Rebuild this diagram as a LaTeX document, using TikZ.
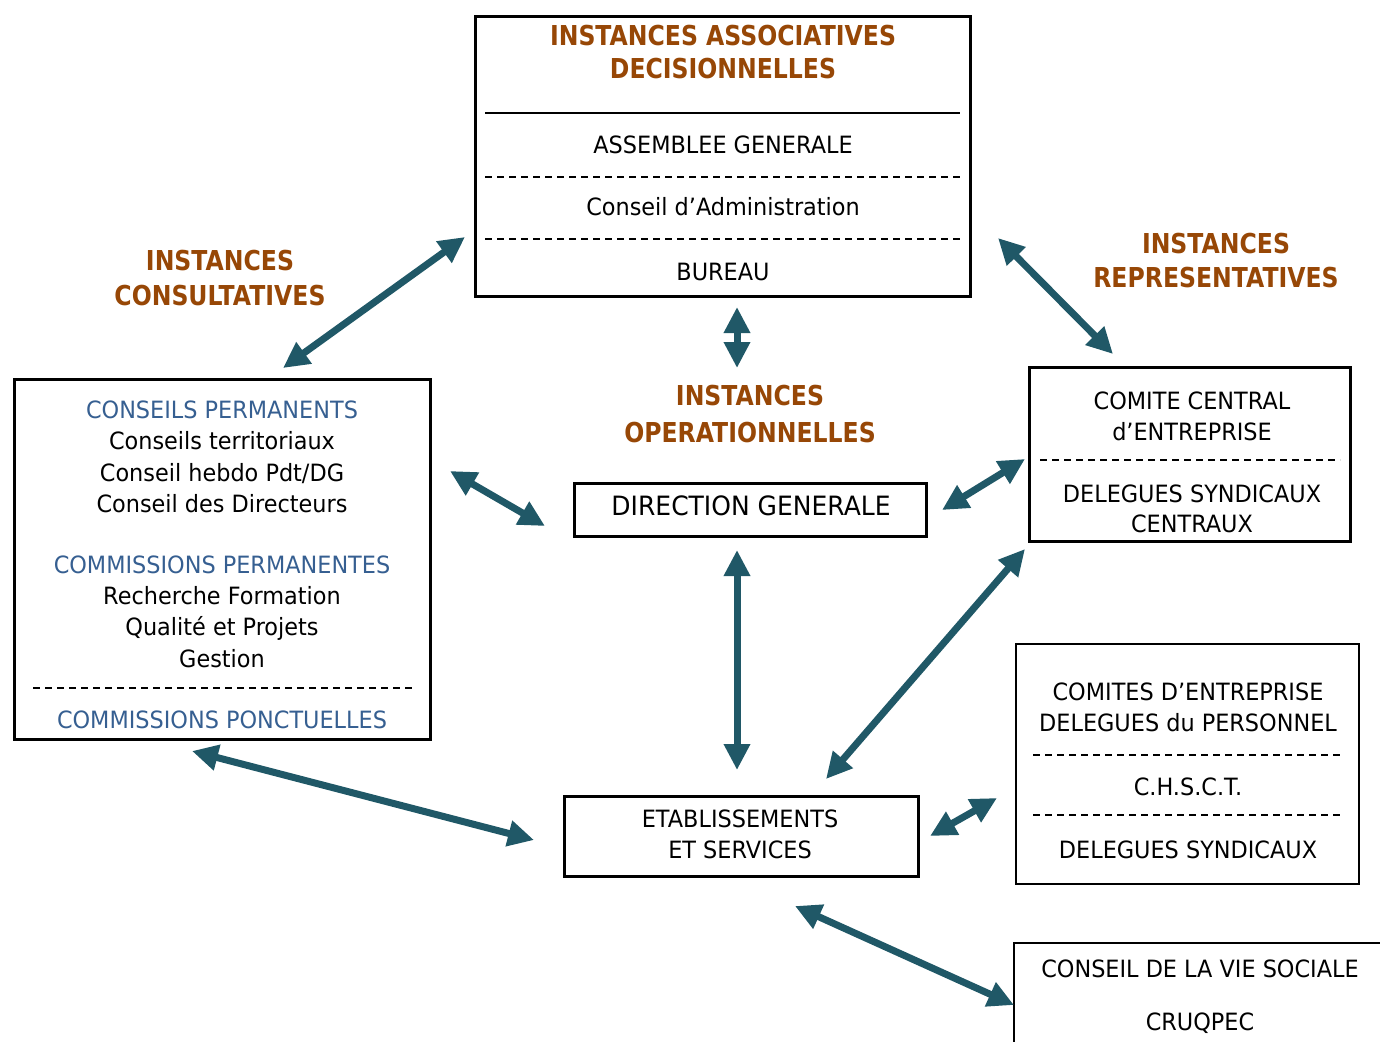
\documentclass[tikz,border=0pt]{standalone}
\usepackage{fontspec}
\setmainfont{DejaVu Sans}[FakeStretch=0.94]
\newfontfamily\titlefont{DejaVu Sans}[FakeStretch=0.86]
\usetikzlibrary{arrows.meta}
\definecolor{titlecolor}{RGB}{151,71,6}
\definecolor{subcolor}{RGB}{54,95,145}
\definecolor{linkcolor}{RGB}{32,88,103}
\begin{document}
\begin{tikzpicture}[x=0.5pt,y=-0.5pt]
\tikzstyle{box}=[draw,line width=1.75pt,inner sep=0pt]
\tikzstyle{thinbox}=[box,line width=1.1pt]
\tikzstyle{txt}=[inner sep=0pt,anchor=base,font=\fontsize{11.9}{14}\selectfont]
\tikzstyle{bigtxt}=[txt,font=\fontsize{13.3}{15}\selectfont]
\tikzstyle{title}=[txt,text=titlecolor,font=\titlefont\bfseries\fontsize{13.7}{16}\selectfont]
\tikzstyle{sub}=[txt,text=subcolor]
\tikzstyle{sep}=[line width=0.75pt,dash pattern=on 3.5pt off 2.5pt]
\tikzstyle{link}=[linkcolor,line width=3.5pt,{Triangle[length=13pt,width=12.5pt]}-{Triangle[length=13pt,width=12.5pt]}]
\useasboundingbox (0,0) rectangle (1380,1041);
\clip (0,0) rectangle (1380,1041);
% boxes
\node[box,minimum width=247.5pt,minimum height=140pt] (assoc) at (723,156.5) {};
\node[box,minimum width=208pt,minimum height=180pt] (consult) at (222.5,559.5) {};
\node[box,minimum width=160.5pt,minimum height=87pt] (cce) at (1190,454.5) {};
\node[thinbox,minimum width=171.5pt,minimum height=120pt] (ce) at (1187.5,764) {};
\node[box,line width=0.8pt,minimum width=193pt,minimum height=68.5pt] (cvs) at (1207,1011.5) {};
\node[box,minimum width=176pt,minimum height=26.5pt] (dg) at (750.5,510) {};
\node[box,minimum width=177pt,minimum height=40pt] (etab) at (741.5,836.5) {};
% separators
\draw[line width=1pt] (485,113) -- (960,113);
\draw[sep] (485,177) -- (960,177);
\draw[sep] (485,239) -- (960,239);
\draw[sep] (33,688) -- (412,688);
\draw[sep] (1040,460) -- (1340,460);
\draw[sep] (1033,755) -- (1342,755);
\draw[sep] (1033,815) -- (1342,815);
% decisional bodies
\node[title] (assoc-t1) at (723,45) {INSTANCES ASSOCIATIVES};
\node[title] (assoc-t2) at (723,78) {DECISIONNELLES};
\node[txt] (ag) at (723,153) {ASSEMBLEE GENERALE};
\node[txt] (ca) at (723,215) {Conseil d’Administration};
\node[txt] (bureau) at (723,280) {BUREAU};
% consultative bodies
\node[title] (consult-t1) at (220,270) {INSTANCES};
\node[title] (consult-t2) at (220,305) {CONSULTATIVES};
\node[sub] (cp) at (222,418) {CONSEILS PERMANENTS};
\node[txt] (cp1) at (222,449) {Conseils territoriaux};
\node[txt] (cp2) at (222,481) {Conseil hebdo Pdt/DG};
\node[txt] (cp3) at (222,512) {Conseil des Directeurs};
\node[sub] (cmp) at (222,573) {COMMISSIONS PERMANENTES};
\node[txt] (cmp1) at (222,604) {Recherche Formation};
\node[txt] (cmp2) at (222,635) {Qualité et Projets};
\node[txt] (cmp3) at (222,667) {Gestion};
\node[sub] (cpo) at (222,728) {COMMISSIONS PONCTUELLES};
% operational bodies
\node[title] (oper-t1) at (750,405) {INSTANCES};
\node[title] (oper-t2) at (750,442) {OPERATIONNELLES};
\node[bigtxt] (dg-t) at (751,515) {DIRECTION GENERALE};
\node[txt] (etab-t1) at (740,827) {ETABLISSEMENTS};
\node[txt] (etab-t2) at (740,858) {ET SERVICES};
% representative bodies
\node[title] (repr-t1) at (1216,253) {INSTANCES};
\node[title] (repr-t2) at (1216,287) {REPRESENTATIVES};
\node[txt] (cce-t1) at (1192,409) {COMITE CENTRAL};
\node[txt] (cce-t2) at (1192,440) {d’ENTREPRISE};
\node[txt] (cce-t3) at (1192,502) {DELEGUES SYNDICAUX};
\node[txt] (cce-t4) at (1192,532) {CENTRAUX};
\node[txt] (ce-t1) at (1188,700) {COMITES D’ENTREPRISE};
\node[txt] (ce-t2) at (1188,731) {DELEGUES du PERSONNEL};
\node[txt] (ce-t3) at (1188,795) {C.H.S.C.T.};
\node[txt] (ce-t4) at (1188,858) {DELEGUES SYNDICAUX};
\node[txt] (cvs-t1) at (1200,977) {CONSEIL DE LA VIE SOCIALE};
\node[txt] (cvs-t2) at (1200,1030) {CRUQPEC};
% arrow ends
\coordinate (consult-up) at (283,368);
\coordinate (assoc-left) at (465,237);
\coordinate (assoc-right) at (998,238);
\coordinate (cce-up) at (1113,354);
\coordinate (assoc-down) at (737,307);
\coordinate (oper-up) at (737,368);
\coordinate (consult-right) at (450,471);
\coordinate (dg-left) at (545,526);
\coordinate (dg-right) at (942,510);
\coordinate (cce-left) at (1025,459);
\coordinate (dg-down) at (737,550);
\coordinate (etab-up) at (737,770);
\coordinate (etab-upright) at (826,779);
\coordinate (cce-low) at (1025,549);
\coordinate (consult-down) at (192,751);
\coordinate (etab-left) at (534,840);
\coordinate (etab-right) at (930,836);
\coordinate (ce-left) at (997,798);
\coordinate (etab-down) at (795,906);
\coordinate (cvs-left) at (1014,1005);
% links
\draw[link] (consult-up) -- (assoc-left);
\draw[link] (assoc-right) -- (cce-up);
\draw[link] (assoc-down) -- (oper-up);
\draw[link] (consult-right) -- (dg-left);
\draw[link] (dg-right) -- (cce-left);
\draw[link] (dg-down) -- (etab-up);
\draw[link] (etab-upright) -- (cce-low);
\draw[link] (consult-down) -- (etab-left);
\draw[link] (etab-right) -- (ce-left);
\draw[link] (etab-down) -- (cvs-left);
\end{tikzpicture}
\end{document}
